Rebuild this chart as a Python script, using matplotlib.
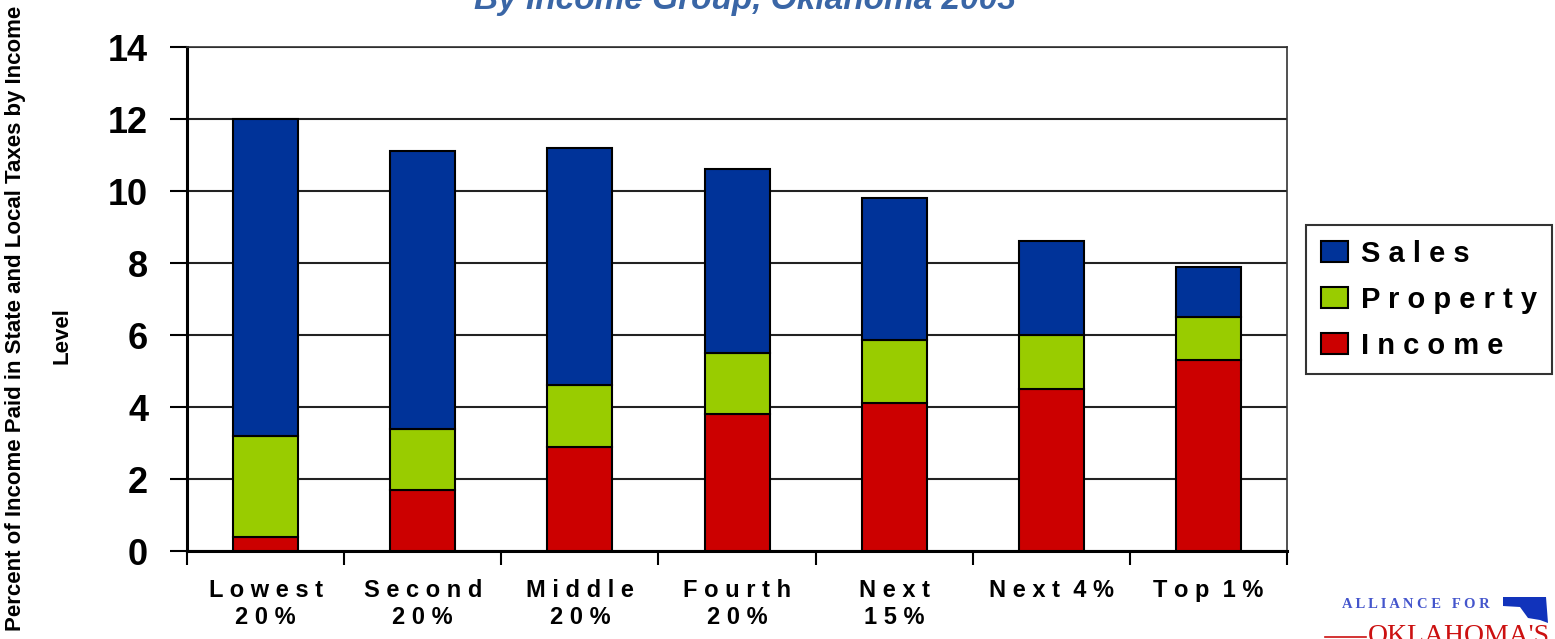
import matplotlib
matplotlib.use("Agg")
import matplotlib.pyplot as plt
import numpy as np
from matplotlib.patches import Polygon
from matplotlib.lines import Line2D
from matplotlib.transforms import Affine2D

# Tax shares by income group (percent of income)
groups = ["L o w e s t\n2 0 %", "S e c o n d\n2 0 %", "M i d d l e\n2 0 %",
          "F o u r t h\n2 0 %", "N e x t\n1 5 %", "N e x t  4 %", "T o p  1 %"]
income = [0.4, 1.7, 2.9, 3.8, 4.1, 4.5, 5.3]
property_tax = [2.8, 1.7, 1.7, 1.7, 1.75, 1.5, 1.2]
sales = [8.8, 7.7, 6.6, 5.1, 3.95, 2.6, 1.4]
yticks = [0, 2, 4, 6, 8, 10, 12, 14]

c_sales = "#003399"
c_prop = "#99CC00"
c_inc = "#CC0000"

plt.rcParams["font.family"] = ["Liberation Sans", "DejaVu Sans"]

fig = plt.figure(figsize=(15.55, 6.39), dpi=100)
ax = fig.add_axes([0.1203, 0.1377, 0.7074, 0.7887])

x = np.arange(len(groups))
w = 0.414
inc = np.array(income)
prop = np.array(property_tax)
sal = np.array(sales)
b1 = ax.bar(x, inc, w, color=c_inc, edgecolor="black", linewidth=1.5, zorder=3, label="I n c o m e")
b2 = ax.bar(x, prop, w, bottom=inc, color=c_prop, edgecolor="black", linewidth=1.5, zorder=3, label="P r o p e r t y")
b3 = ax.bar(x, sal, w, bottom=inc + prop, color=c_sales, edgecolor="black", linewidth=1.5, zorder=3, label="S a l e s")

ax.set_xlim(-0.5, 6.5)
ax.set_ylim(0, 14)
ax.set_yticks(yticks)
ax.set_yticklabels([str(v) for v in yticks], fontsize=26, fontweight="bold")
ax.yaxis.grid(True, color="#222222", linewidth=1.5, zorder=0)
ax.tick_params(axis="y", length=12, width=1.5, pad=16)

# category boundaries carry the x ticks
ax.set_xticks(np.arange(-0.5, 7.0, 1.0), minor=False)
ax.set_xticklabels([""] * 8)
ax.tick_params(axis="x", which="major", length=10, width=1.5, direction="out")
ax.set_xticks(x, minor=True)
ax.set_xticklabels(groups, minor=True, fontsize=17, fontweight="bold", linespacing=1.22)
ax.tick_params(axis="x", which="minor", length=0, pad=20)

for s in ["left", "bottom"]:
    ax.spines[s].set_linewidth(2.2)
for s in ["top", "right"]:
    ax.spines[s].set_linewidth(1.2)
    ax.spines[s].set_color("#333333")

fig.text(16 / 1555, 1 - 318 / 639, "Percent of Income Paid in State and Local Taxes by Income",
         rotation=90, ha="center", va="center", fontsize=16, fontweight="bold")
fig.text(62 / 1555, 1 - 336 / 639, "Level",
         rotation=90, ha="center", va="center", fontsize=16, fontweight="bold")

leg = fig.legend(handles=[b3, b2, b1], loc="upper left",
                 bbox_to_anchor=(1306 / 1555, 1 - 225 / 639),
                 prop={"size": 21, "weight": "bold"}, frameon=True, fancybox=False,
                 edgecolor="black", borderpad=0.5, handlelength=0.95, handleheight=0.75,
                 handletextpad=0.45, labelspacing=0.62, borderaxespad=0)
leg.get_frame().set_linewidth(1.5)

fig.text(745 / 1555, 1 - 0 / 639, "By Income Group, Oklahoma 2003", ha="center", va="center",
         fontsize=24, style="italic", fontweight="bold", color="#3A66A6")

# organisation mark
fig.text(1416 / 1555, 1 - 604 / 639, "A L L I A N C E   F O R", ha="center", va="center",
         fontsize=10.5, color="#4455CC", fontfamily="Liberation Serif", fontweight="bold")
fig.text(1459 / 1555, 1 - 624 / 639, "OKLAHOMA'S", ha="center", va="top",
         fontsize=20, color="#CC1111", fontfamily="Liberation Serif")
flip = Affine2D().scale(1, -1).translate(0, 639)
state = Polygon([(1503, 597), (1546, 597), (1548, 623), (1540, 620), (1528, 618),
                 (1520, 607), (1503, 606)], closed=True,
                facecolor="#1133BB", edgecolor="none")
state.set_transform(flip)
fig.patches.append(state)
rule = Line2D([1325, 1366], [637, 637], color="#CC1111", linewidth=1.2)
rule.set_transform(flip)
fig.lines.append(rule)

fig.savefig("out.png", dpi=100)
